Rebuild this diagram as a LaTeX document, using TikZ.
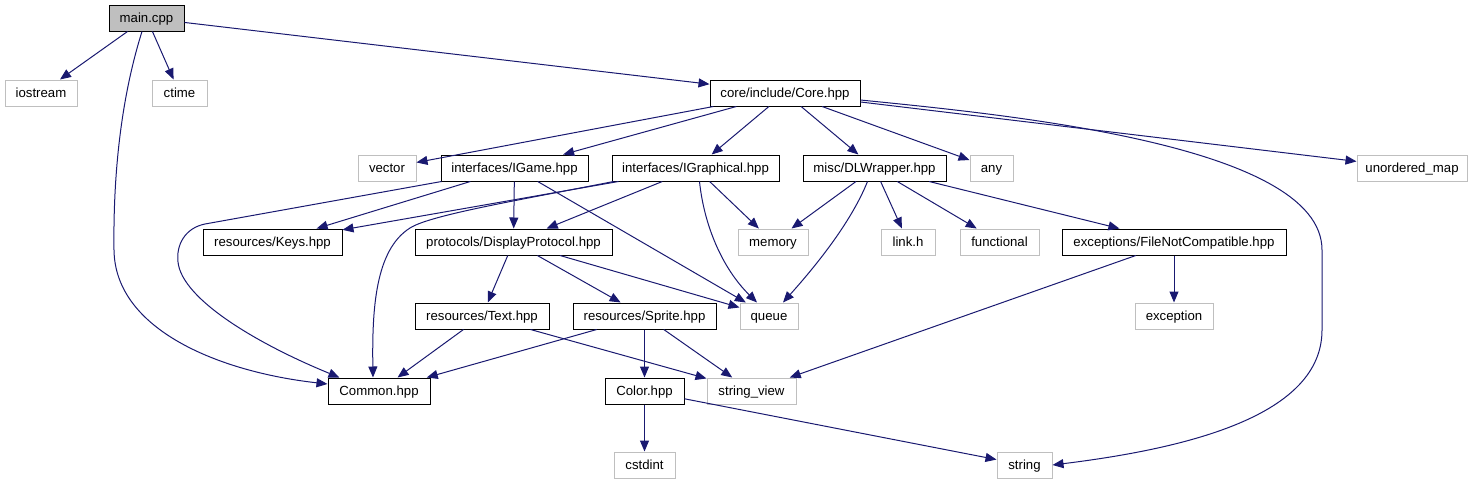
\documentclass[tikz,border=0pt]{standalone}
\usepackage{fontspec}
\setmainfont{Liberation Sans}
\usetikzlibrary{arrows.meta,calc}
\definecolor{edgecol}{HTML}{191970}
\definecolor{extcol}{HTML}{BFBFBF}
\tikzset{
  box/.style={draw=black, line width=1pt, minimum height=26pt, inner xsep=0pt, inner ysep=0pt, text height=12pt, text depth=3pt, font=\fontsize{13.2}{15}\selectfont, text=black},
  ext/.style={box, draw=extcol},
  rootbox/.style={box, fill=extcol},
  dep/.style={draw=edgecol, line width=1pt, -{Triangle[length=11pt,width=9pt]}, color=edgecol},
}
\begin{document}
\begin{tikzpicture}[x=1pt,y=-1pt]
\useasboundingbox (0,0) rectangle (1477,485);
% row 1
\node[rootbox, minimum width=75pt] (main) at (146.5,18) {main.cpp};
% row 2
\node[ext, minimum width=72pt] (iostream) at (41,93) {iostream};
\node[ext, minimum width=55pt] (ctime) at (179.5,93) {ctime};
\node[box, minimum width=150pt] (core) at (785,93) {core/include/Core.hpp};
% row 3
\node[ext, minimum width=58pt] (vector) at (387,168) {vector};
\node[box, minimum width=147pt] (igame) at (514.5,168) {interfaces/IGame.hpp};
\node[box, minimum width=167pt] (igraph) at (695.5,168) {interfaces/IGraphical.hpp};
\node[box, minimum width=143pt] (dl) at (874.5,168) {misc/DLWrapper.hpp};
\node[ext, minimum width=43pt] (any) at (991.5,168) {any};
\node[ext, minimum width=110pt] (umap) at (1412,168) {unordered\_map};
% row 4
\node[box, minimum width=139pt] (keys) at (272.5,242) {resources/Keys.hpp};
\node[box, minimum width=197pt] (dp) at (513.5,242) {protocols/DisplayProtocol.hpp};
\node[ext, minimum width=70pt] (memory) at (773,242) {memory};
\node[ext, minimum width=54pt] (linkh) at (908,242) {link.h};
\node[ext, minimum width=79pt] (functional) at (999.5,242) {functional};
\node[box, minimum width=224pt] (fnc) at (1174,242) {exceptions/FileNotCompatible.hpp};
% row 5
\node[box, minimum width=134pt] (text) at (482,316) {resources/Text.hpp};
\node[box, minimum width=143pt] (sprite) at (644.5,316) {resources/Sprite.hpp};
\node[ext, minimum width=58pt] (queue) at (769,316) {queue};
\node[ext, minimum width=78pt] (exception) at (1174,316) {exception};
% row 6
\node[box, minimum width=102pt] (common) at (379,391) {Common.hpp};
\node[box, minimum width=79pt] (color) at (644.5,391) {Color.hpp};
\node[ext, minimum width=89pt] (sview) at (751.5,391) {string\_view};
% row 7
\node[ext, minimum width=61pt] (cstdint) at (644.5,465) {cstdint};
\node[ext, minimum width=55pt] (string) at (1024.5,465) {string};

% edges from main
\draw[dep] (main) -- (iostream);
\draw[dep] (main) -- (ctime);
\draw[dep] (main) -- (core);
\draw[dep] ($(main.south)+(-4.5,0)$) .. controls (122,95) and (113,170) .. (114,250)
  .. controls (115,330) and (220,372) .. ($(common.west)+(0,-7)$);
% edges from core
\draw[dep] (core) -- (vector);
\draw[dep] (core) -- (igame);
\draw[dep] (core) -- (igraph);
\draw[dep] (core) -- (dl);
\draw[dep] (core) -- (any);
\draw[dep] (core) -- (umap);
\draw[dep] ($(core.east)+(0,7)$) .. controls (1010,115) and (1322,145) .. (1322,250)
  -- (1322,330) .. controls (1322,415) and (1190,448) .. (string.east);
% edges from IGame
\draw[dep] (igame) -- (keys);
\draw[dep] (igame) -- (dp);
\draw[dep] (igame) -- (queue);
\draw[dep] ($(igame.south west)+(1,0)$) -- (205,224) .. controls (185,228) and (176,245) .. (178,262)
  .. controls (182,300) and (260,345) .. ($(common.north west)+(12,0)$);
% edges from IGraphical
\draw[dep] (igraph) -- (keys);
\draw[dep] (igraph) -- (dp);
\draw[dep] (igraph) -- (memory);
\draw[dep] ($(igraph.south)+(4,0)$) .. controls (704,225) and (722,268) .. ($(queue.north)+(-12,0)$);
\draw[dep] ($(igraph.south west)+(2,0)$) .. controls (520,200) and (430,215) .. (410,228)
  .. controls (375,250) and (372,310) .. ($(common.north)+(-6,0)$);
% edges from DLWrapper
\draw[dep] (dl) -- (memory);
\draw[dep] ($(dl.south)+(-7,0)$) .. controls (850,225) and (812,270) .. ($(queue.north)+(14,0)$);
\draw[dep] (dl) -- (linkh);
\draw[dep] (dl) -- (functional);
\draw[dep] (dl) -- (fnc);
% edges from DisplayProtocol
\draw[dep] (dp) -- (text);
\draw[dep] (dp) -- (sprite);
\draw[dep] (dp) -- (queue);
% edges from FileNotCompatible
\draw[dep] (fnc) -- (exception);
\draw[dep] (fnc) -- (sview);
% edges from Text
\draw[dep] (text) -- (common);
\draw[dep] (text) -- (sview);
% edges from Sprite
\draw[dep] (sprite) -- (common);
\draw[dep] (sprite) -- (color);
\draw[dep] (sprite) -- (sview);
% edges from Color
\draw[dep] (color) -- (cstdint);
\draw[dep] (color) -- (string);
\end{tikzpicture}
\end{document}
